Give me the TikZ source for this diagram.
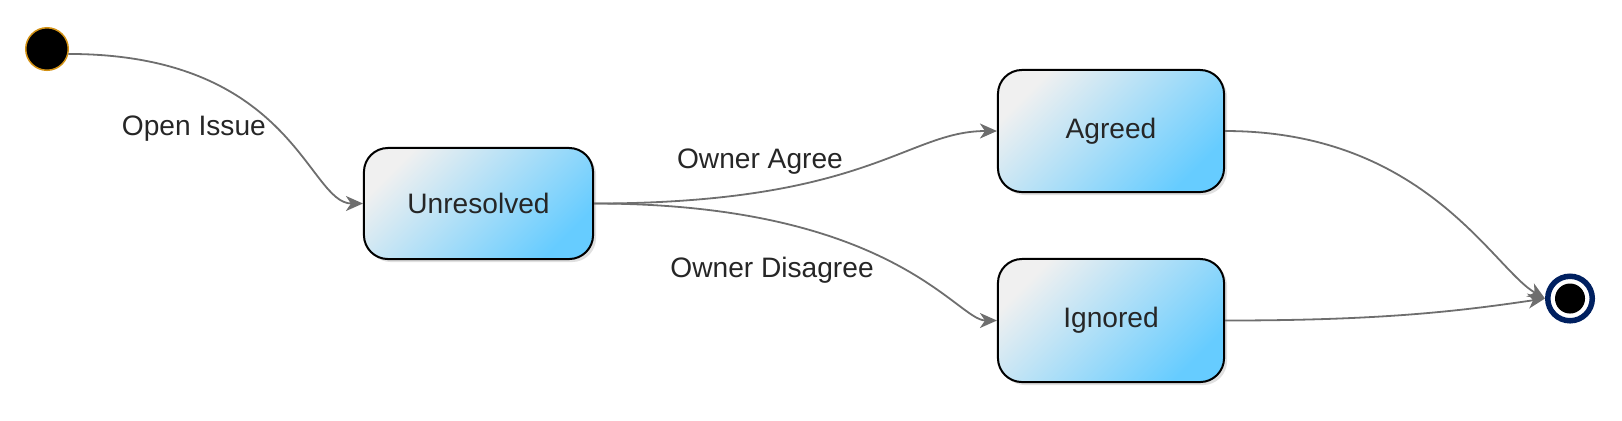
\documentclass[tikz,border=0pt]{standalone}
\usepackage{fontspec}
\setmainfont{Liberation Sans}
\usetikzlibrary{arrows.meta,shadows}

\definecolor{edgegray}{RGB}{110,110,110}
\definecolor{boxblue}{RGB}{102,204,255}
\definecolor{boxgray}{RGB}{240,240,240}
\definecolor{startring}{RGB}{210,145,20}
\definecolor{endring}{RGB}{0,32,96}

\tikzset{
  labelfont/.style={font=\fontsize{8}{9.6}\selectfont, text=black!85},
  statebox/.style={draw=black, line width=0.02cm, rounded corners=0.24cm,
    top color=boxgray, bottom color=boxblue, shading angle=45,
    drop shadow={shadow xshift=0.03cm, shadow yshift=-0.03cm, fill=black!12, opacity=1},
    labelfont},
  startdot/.style={circle, fill=black, draw=startring, line width=0.015cm,
    minimum size=0.425cm, inner sep=0pt},
  enddot/.style={circle, fill=white, draw=endring, line width=0.055cm,
    minimum size=0.445cm, inner sep=0pt},
  trans/.style={draw=edgegray, line width=0.018cm,
    -{Stealth[length=0.17cm, width=0.15cm, inset=0.05cm]}},
}

\begin{document}
\begin{tikzpicture}[x=0.01cm, y=-0.01cm]
            \useasboundingbox (0,0) rectangle (1622,420);

            \node[startdot] (start) at (47,49) {};
            \node[statebox, minimum width=2.29cm, minimum height=1.11cm] (unres) at (478.5,203.5) {Unresolved};
            \node[statebox, minimum width=2.26cm, minimum height=1.22cm] (agreed) at (1111,131) {Agreed};
            \node[statebox, minimum width=2.26cm, minimum height=1.23cm] (ignored) at (1111,320.5) {Ignored};
            \node[enddot] (end) at (1570,298.5) {};
            \node[circle, fill=black, minimum size=0.30cm, inner sep=0pt] (endcore) at (end) {};

            \draw[trans] (start.-13) .. controls +(225,0) and +(-55,0) .. (unres.west)
                node[pos=0.5, anchor=east, xshift=-0.01cm, labelfont] (lopen) {Open Issue};
            \draw[trans] (unres.east) .. controls +(274,0) and +(-90,0) .. (agreed.west)
                node[pos=0.25, above=0.05cm, labelfont] (lagree) {Owner Agree};
            \draw[trans] (unres.east) .. controls +(300,0) and +(-40,0) .. (ignored.west)
                node[pos=0.24, below=0.24cm, labelfont] (ldisagree) {Owner Disagree};
            \draw[trans] (agreed.east) .. controls +(200,0) and +(-52,-30) .. (end.west);
            \draw[trans] (ignored.east) .. controls +(155,0) and +(-88,13) .. (end.west);
        \end{tikzpicture}
\end{document}
